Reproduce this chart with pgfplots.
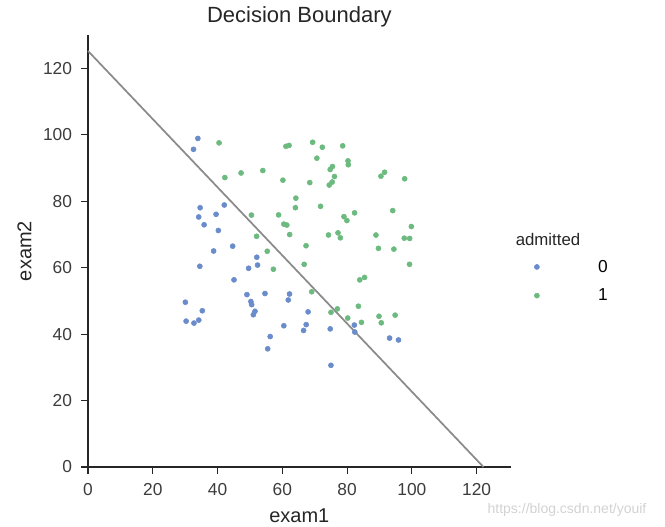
\documentclass[border=0pt]{standalone}
\usepackage{fontspec}
\setmainfont{Liberation Sans}
\usepackage{pgfplots}
\pgfplotsset{compat=1.18}
\usetikzlibrary{calc}
\definecolor{neg}{HTML}{6A8CCA}
\definecolor{pos}{HTML}{6DBA80}
\definecolor{spine}{HTML}{262626}
\definecolor{bound}{HTML}{8A8A8A}

\pgfplotstableread{
x y
34.62 78.02
30.29 43.89
35.85 72.90
45.08 56.32
95.86 38.23
75.01 30.60
39.54 76.04
67.95 46.68
50.53 48.86
34.21 44.21
67.37 42.84
93.11 38.80
61.83 50.26
38.79 65.00
52.11 63.13
40.24 71.17
54.64 52.21
33.92 98.87
74.79 41.57
34.18 75.24
51.55 46.86
82.37 40.62
51.05 45.82
62.22 52.06
34.52 60.40
50.29 49.80
49.59 59.81
32.58 95.60
35.29 47.02
56.25 39.26
30.06 49.59
44.67 66.45
66.56 41.09
49.07 51.88
32.72 43.31
60.46 42.51
82.23 42.72
42.08 78.84
52.35 60.77
55.48 35.57
}\negdata

\pgfplotstableread{
x y
60.18 86.31
79.03 75.34
61.11 96.51
75.02 46.55
76.10 87.42
84.43 43.53
82.31 76.48
69.36 97.72
53.97 89.21
69.07 52.74
70.66 92.93
76.98 47.58
89.68 65.80
77.92 68.97
62.27 69.95
80.19 44.82
61.38 72.81
85.40 57.05
52.05 69.43
64.18 80.91
83.90 56.31
94.44 65.57
77.19 70.46
97.77 86.73
62.07 96.77
91.56 88.70
79.94 74.16
99.27 61.00
90.55 43.39
97.65 68.86
74.25 69.82
71.80 78.45
75.40 85.76
40.46 97.54
80.28 92.12
66.75 60.99
64.04 78.03
72.35 96.23
60.46 73.09
58.84 75.86
99.83 72.37
47.26 88.48
50.46 75.81
88.91 69.80
94.83 45.69
67.32 66.59
57.24 59.51
80.37 90.96
68.47 85.59
75.48 90.42
78.64 96.65
94.09 77.16
90.45 87.51
74.49 84.85
89.85 45.36
83.49 48.38
42.26 87.10
99.32 68.78
55.34 64.93
74.78 89.53
}\posdata

\begin{document}
\begin{tikzpicture}[x=0.75pt,y=0.75pt]
\begin{axis}[
    name=main,
    scale only axis,
    width=317pt, height=324pt,
    xmin=0, xmax=130.5,
    ymin=0, ymax=130,
    axis lines*=left,
    axis line style={spine, line width=0.9pt},
    xtick={0,20,...,120},
    ytick={0,20,...,120},
    tick align=outside,
    tick style={spine, line width=0.8pt},
    major tick length=5pt,
    tick label style={font=\fontsize{13}{15}\selectfont, text=spine!90},
    xticklabel style={yshift=-4pt},
    yticklabel style={xshift=-3.5pt},
    /pgf/number format/assume math mode=true,
    xlabel={exam1}, ylabel={exam2},
    label style={font=\fontsize{15}{17}\selectfont, text=spine},
    xlabel style={yshift=-2.5pt},
    ylabel style={yshift=1.75pt},
    title={Decision Boundary},
    title style={font=\fontsize{16.5}{19}\selectfont, text=spine,
        at={(0.5,1)}, anchor=base, yshift=3.75pt},
    clip=false,
    legend style={draw=none, fill=none, at={(1.046,0.43)}, anchor=west,
        font=\fontsize{13}{15}\selectfont, row sep=7pt,
        cells={anchor=west}},
    legend cell align=left,
]
\addplot[color=bound, line width=1.3pt, forget plot] coordinates {(0,125.2) (122.1,0)};
\addplot[only marks, mark=*, mark size=1.9pt, color=neg, fill=neg, draw=neg] table[x=x,y=y] {\negdata};
\addplot[only marks, mark=*, mark size=1.9pt, color=pos, fill=pos, draw=pos] table[x=x,y=y] {\posdata};
\legend{\hspace{42pt}0, \hspace{42pt}1}
\end{axis}
\node[font=\fontsize{12.6}{14}\selectfont, text=spine, anchor=base] at ($(main.south west)+(460,222)$) {admitted};
\node[font=\fontsize{10.5}{12}\selectfont, text=gray!35] at ($(main.south west)+(479,-43)$) {https://blog.csdn.net/youif};
\useasboundingbox ($(main.south west)+(-88,-58)$) rectangle ($(main.south west)+(577,467)$);
\end{tikzpicture}
\end{document}
